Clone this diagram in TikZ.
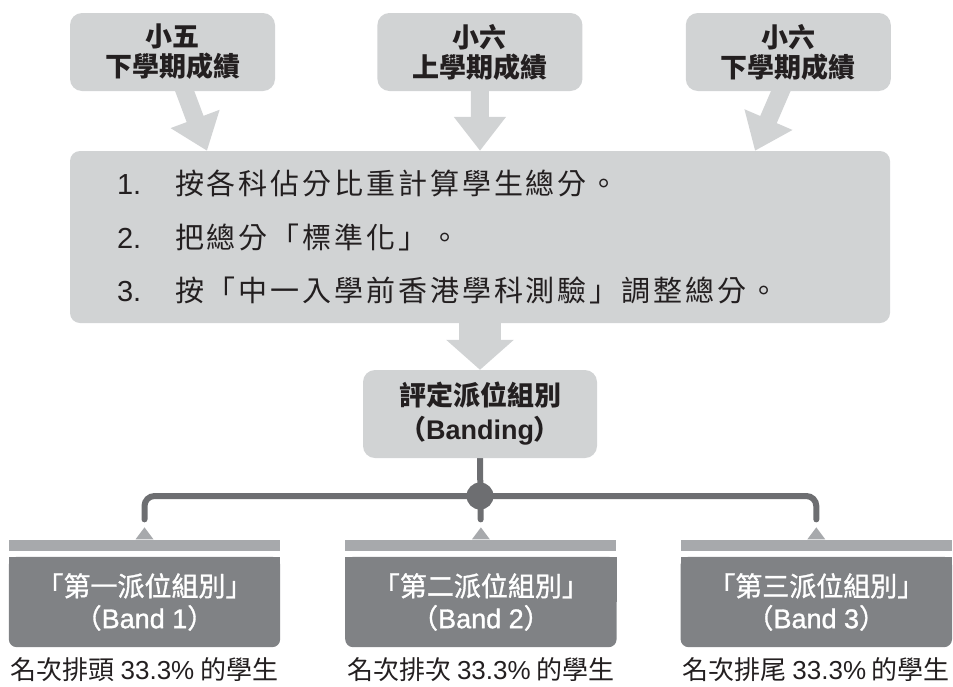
\documentclass[tikz,border=0pt]{standalone}
\usepackage{fontspec}
\setmainfont{Liberation Sans}
\newfontfamily\cjk{Noto Sans CJK TC}
\newfontfamily\cjkwide[LetterSpace=10]{Noto Sans CJK TC}
\newfontfamily\cjkmid[FakeBold=1.2]{Noto Sans CJK TC}
\newfontfamily\latmid[FakeBold=1.2]{Liberation Sans}
\usetikzlibrary{arrows.meta}
\usetikzlibrary{positioning}
\pgfdeclarelayer{background}
\pgfsetlayers{background,main}
\definecolor{boxgray}{HTML}{D1D3D4}
\definecolor{bandgray}{HTML}{808285}
\definecolor{bargray}{HTML}{A7A9AC}
\definecolor{linegray}{HTML}{6D6E71}
\definecolor{inkblack}{HTML}{231F20}
\newcommand{\ltn}[1]{{\rmfamily #1}}
\newcommand{\ltnmid}[1]{{\latmid #1}}
\newcommand{\stepno}[1]{\makebox[58pt][l]{\rmfamily #1}}
\tikzstyle{source} = [rectangle, fill=boxgray, rounded corners=12pt,
    minimum width=205pt, minimum height=78pt, inner sep=0pt, align=center,
    text=inkblack, font=\cjk\bfseries\fontsize{27}{30}\selectfont]
\tikzstyle{process} = [rectangle, fill=boxgray, rounded corners=10pt,
    minimum height=172pt, text width=726pt, inner xsep=47pt, inner ysep=0pt,
    align=left, text=inkblack, font=\cjkwide\fontsize{29}{53.5}\selectfont]
\tikzstyle{result} = [rectangle, fill=boxgray, rounded corners=12pt,
    minimum width=234pt, minimum height=88pt, inner sep=0pt, align=center,
    text=inkblack, font=\cjk\bfseries\fontsize{27}{34}\selectfont]
\tikzstyle{band} = [rectangle, minimum width=271pt, minimum height=90pt,
    inner sep=0pt, align=center, text=white, font=\cjkmid\fontsize{27}{32}\selectfont]
\tikzstyle{bandbar} = [rectangle, fill=bargray, minimum width=271pt,
    minimum height=11pt, inner sep=0pt]
\tikzstyle{share} = [inner sep=0pt, text=inkblack, font=\cjk\fontsize{26}{30}\selectfont]
\tikzstyle{hub} = [circle, fill=linegray, minimum size=27pt, inner sep=0pt]
\tikzstyle{fat arrow} = [draw=boxgray, line width=18pt, -{Triangle[width=50pt,length=34pt]}]
\tikzstyle{connector} = [draw=linegray, line width=6pt, line cap=round, rounded corners=10pt]

\begin{document}
\begin{tikzpicture}[x=1pt, y=-1pt]
\useasboundingbox (0,0) rectangle (953,686);
% Place nodes
\node [source] (p5term2) at (172.5,52) {小五\\下學期成績};
\node [source, right=102pt of p5term2] (p6term1) {小六\\上學期成績};
\node [source, right=103pt of p6term1] (p6term2) {小六\\下學期成績};

\node [process] (steps) at (480,237) {\stepno{1.}按各科佔分比重計算學生總分。\\
\stepno{2.}把總分「標準化」。\\
\stepno{3.}按「中一入學前香港學科測驗」調整總分。};

\node [result] (banding) at (480,414) {評定派位組別\\（\ltn{Banding}）};
\node [hub] (hub) at (480,496) {};

\node [band] (band1) at (144.5,602) {「第一派位組別」\\（\ltnmid{Band 1}）};
\node [band, right=65pt of band1] (band2) {「第二派位組別」\\（\ltnmid{Band 2}）};
\node [band, right=64pt of band2] (band3) {「第三派位組別」\\（\ltnmid{Band 3}）};

\node [bandbar, above=6pt of band1] (bar1) {};
\node [bandbar, above=6pt of band2] (bar2) {};
\node [bandbar, above=6pt of band3] (bar3) {};

\node [share, below=10pt of band1] (share1) {名次排頭 \ltn{33.3\%} 的學生};
\node [share, below=10pt of band2] (share2) {名次排次 \ltn{33.3\%} 的學生};
\node [share, below=10pt of band3] (share3) {名次排尾 \ltn{33.3\%} 的學生};

\begin{pgfonlayer}{background}
% band boxes: square on top, round at the bottom
\fill [bandgray, rounded corners=8pt] (band1.north west) rectangle (band1.south east);
\fill [bandgray] (band1.north west) rectangle (band1.east);
\fill [bandgray, rounded corners=8pt] (band2.north west) rectangle (band2.south east);
\fill [bandgray] (band2.north west) rectangle (band2.east);
\fill [bandgray, rounded corners=8pt] (band3.north west) rectangle (band3.south east);
\fill [bandgray] (band3.north west) rectangle (band3.east);
\fill [bargray] ([xshift=-9pt]bar1.north) -- ([yshift=12pt]bar1.north) -- ([xshift=9pt]bar1.north) -- cycle;
\fill [bargray] ([xshift=-9pt]bar2.north) -- ([yshift=12pt]bar2.north) -- ([xshift=9pt]bar2.north) -- cycle;
\fill [bargray] ([xshift=-9pt]bar3.north) -- ([yshift=12pt]bar3.north) -- ([xshift=9pt]bar3.north) -- cycle;

% Draw edges
\path [fat arrow] ([xshift=10pt,yshift=6pt]p5term2.south) -- ([xshift=-273pt]steps.north);
\path [fat arrow] ([yshift=6pt]p6term1.south) -- (steps.north);
\path [fat arrow] ([xshift=-5pt,yshift=6pt]p6term2.south) -- ([xshift=275pt]steps.north);
\path [fat arrow, line width=42pt, -{Triangle[width=66pt,length=30pt]}] (steps.south) -- (banding.north);

\path [connector, shorten <=20pt, shorten >=20pt] (bar1.north) |- (hub.center) -| (bar3.north);
\path [connector, shorten >=20pt] (banding.south) -- (bar2.north);
\end{pgfonlayer}
\end{tikzpicture}
\end{document}
